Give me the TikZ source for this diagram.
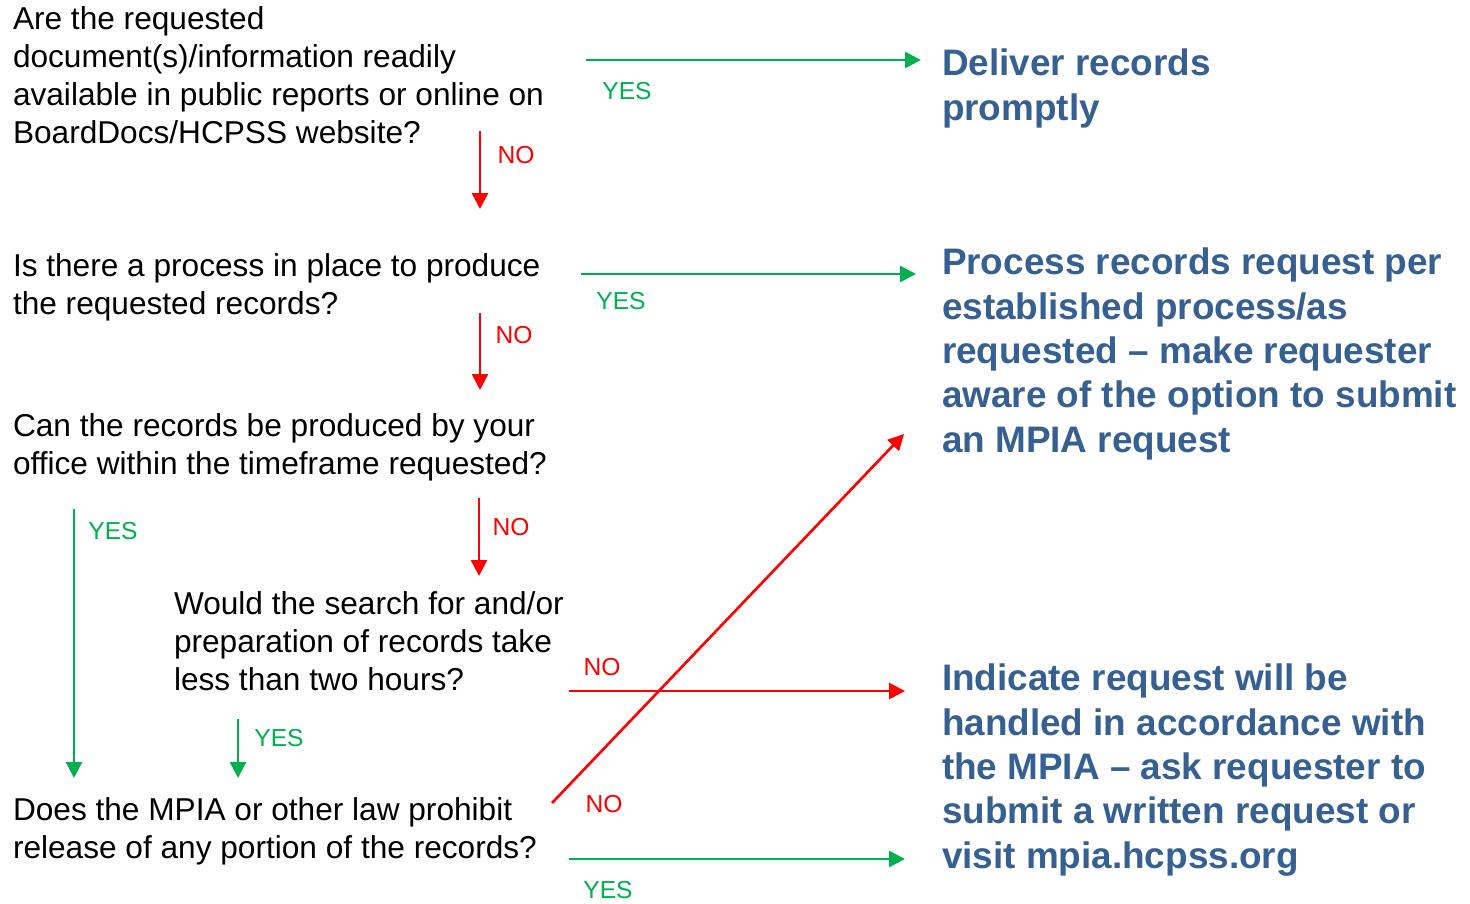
\documentclass[tikz,border=0pt]{standalone}
\usepackage{fontspec}
\setmainfont{Liberation Sans}
\usetikzlibrary{arrows.meta}

\definecolor{yesgreen}{RGB}{0,176,80}
\definecolor{nored}{RGB}{255,0,0}
\definecolor{actblue}{RGB}{54,96,146}

\begin{document}
\begin{tikzpicture}
  [x=0.02cm,y=-0.02cm,every node/.style={inner sep=0pt,outer sep=0pt}]

  \tikzstyle{question} = [anchor=base west, align=left, font=\fontsize{18pt}{21.6pt}\selectfont]
  \tikzstyle{action}   = [anchor=base west, align=left, text=actblue, font=\fontsize{21pt}{25.2pt}\selectfont\bfseries]
  \tikzstyle{yeslbl}   = [text=yesgreen, font=\fontsize{14pt}{16pt}\selectfont]
  \tikzstyle{nolbl}    = [text=nored, font=\fontsize{14pt}{16pt}\selectfont]
  \tikzstyle{yesarrow} = [color=yesgreen, line width=1.5pt, -{Triangle[length=9pt,width=9pt]}]
  \tikzstyle{noarrow}  = [color=nored, line width=1.5pt, -{Triangle[length=9pt,width=9pt]}]

  \useasboundingbox (0,0) rectangle (1470,903);

  % questions (placed at the baseline of their last line)
  \node[question] (avail)   at (13,143) {Are the requested\\document(s)/information readily\\available in public reports or online on\\BoardDocs/HCPSS website?};
  \node[question] (process) at (13,314) {Is there a process in place to produce\\the requested records?};
  \node[question] (office)  at (13,474) {Can the records be produced by your\\office within the timeframe requested?};
  \node[question] (hours)   at (174,690) {Would the search for and/or\\preparation of records take\\less than two hours?};
  \node[question] (law)     at (13,858) {Does the MPIA or other law prohibit\\release of any portion of the records?};

  % outcomes
  \node[action] (deliver)  at (942,120) {Deliver records\\promptly};
  \node[action] (perproc)  at (942,452) {Process records request per\\established process/as\\requested – make requester\\aware of the option to submit\\an MPIA request};
  \node[action] (mpia)     at (942,868) {Indicate request will be\\handled in accordance with\\the MPIA – ask requester to\\submit a written request or\\visit mpia.hcpss.org};

  % arrow ends
  \coordinate (a1s) at (586,60);  \coordinate (a1e) at (921,60);
  \coordinate (b1s) at (480,131); \coordinate (b1e) at (480,209);
  \coordinate (a2s) at (581,274); \coordinate (a2e) at (916,274);
  \coordinate (b2s) at (480,313); \coordinate (b2e) at (480,390);
  \coordinate (b3s) at (479,498); \coordinate (b3e) at (479,576);
  \coordinate (a3s) at (74,509);  \coordinate (a3e) at (74,778);
  \coordinate (a4s) at (238,719); \coordinate (a4e) at (238,778);
  \coordinate (b4s) at (569,691); \coordinate (b4e) at (905,691);
  \coordinate (b5s) at (552,803); \coordinate (b5e) at (904,434);
  \coordinate (a5s) at (569,859); \coordinate (a5e) at (905,859);

  \path[yesarrow] (a1s) edge (a1e) (a2s) edge (a2e) (a3s) edge (a3e)
                  (a4s) edge (a4e) (a5s) edge (a5e);
  \path[noarrow]  (b1s) edge (b1e) (b2s) edge (b2e) (b3s) edge (b3e)
                  (b4s) edge (b4e) (b5s) edge (b5e);

  % labels
  \node[yeslbl] (y1) at (627,91)  {YES};
  \node[yeslbl] (y2) at (621,301) {YES};
  \node[yeslbl] (y3) at (113,531) {YES};
  \node[yeslbl] (y4) at (279,738) {YES};
  \node[yeslbl] (y5) at (608,890) {YES};
  \node[nolbl]  (n1) at (516,155) {NO};
  \node[nolbl]  (n2) at (514,335) {NO};
  \node[nolbl]  (n3) at (511,527) {NO};
  \node[nolbl]  (n4) at (602,667) {NO};
  \node[nolbl]  (n5) at (604,804) {NO};
\end{tikzpicture}
\end{document}
